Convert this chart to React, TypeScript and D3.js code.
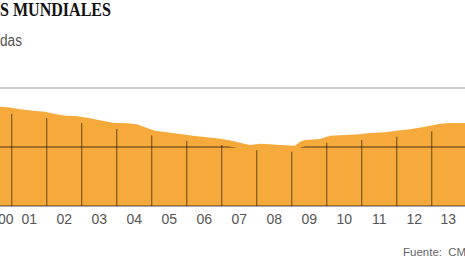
import React from "react";
import * as d3 from "d3";

const W = 465;
const H = 260;

// area series: decimal year and value (index, 0-100 scale)
const dates = [
  2000.666, 2000.951, 2001.237, 2001.609, 2001.951, 2002.237, 2002.551, 2002.837,
  2003.237, 2003.523, 2003.894, 2004.294, 2004.58, 2004.809, 2005.094, 2005.437,
  2005.809, 2006.18, 2006.58, 2006.951, 2007.323, 2007.523, 2007.809, 2008.094,
  2008.38, 2008.666, 2009.094, 2009.237, 2009.38, 2009.809, 2010.094, 2010.523,
  2010.951, 2011.151, 2011.666, 2011.98, 2012.38, 2012.809, 2013.237, 2013.523,
  2013.951,
];
const values = [
  84.2, 83.5, 81.9, 80.8, 79.9, 78.0, 76.5, 76.3,
  74.3, 72.6, 70.6, 70.1, 69.2, 66.7, 63.8, 62.5,
  61.0, 59.6, 58.2, 57.0, 55.1, 53.6, 51.7, 52.8,
  52.3, 51.7, 51.1, 54.5, 55.9, 56.8, 59.6, 60.2,
  60.8, 61.6, 62.5, 63.8, 65.0, 67.2, 69.7, 70.3,
  70.3,
];
const years = [2000, 2001, 2002, 2003, 2004, 2005, 2006, 2007, 2008, 2009, 2010, 2011, 2012, 2013];
const yearLabels = ["00", "01", "02", "03", "04", "05", "06", "07", "08", "09", "10", "11", "12", "13"];
const yTicks = [0, 50, 100];

const titleText = "S MUNDIALES";
const subtitleText = "das";
const sourceText = "Fuente: CM";

export default function App() {
  const x = d3.scaleLinear().domain([2001, 2013]).range([11.7, 431.7]);
  const y = d3.scaleLinear().domain([0, 100]).range([206, 88]);
  const data = dates.map((d, i) => ({ date: d, value: values[i] }));

  const area = d3
    .area<{ date: number; value: number }>()
    .x((d) => x(d.date))
    .y0(y(0))
    .y1((d) => y(d.value));
  const inset = d3
    .area<{ date: number; value: number }>()
    .x((d) => x(d.date))
    .y0(y(0) + 3)
    .y1((d) => y(d.value) + 6);

  const labelX = (yr: number) =>
    (Math.max(x(yr), 0) + Math.min(x(yr + 1), W)) / 2;

  return (
    <svg
      width={W}
      height={H}
      style={{ position: "absolute", left: 0, top: 0, background: "#fff" }}
    >
      <defs>
        <clipPath id="inset">
          <path d={inset(data) || ""} />
        </clipPath>
      </defs>
      <text
        x={0}
        y={15.8}
        fontFamily="Liberation Serif, serif"
        fontWeight="bold"
        fontSize={18.5}
        textLength={111}
        lengthAdjust="spacingAndGlyphs"
        fill="#111"
      >
        {titleText}
      </text>
      <text
        x={0}
        y={45.5}
        fontFamily="Liberation Sans, Arial, sans-serif"
        fontSize={16}
        textLength={22}
        lengthAdjust="spacingAndGlyphs"
        fill="#555"
      >
        {subtitleText}
      </text>
      <line x1={0} x2={W} y1={y(100)} y2={y(100)} stroke="#bdbdbd" strokeWidth={1.5} />
      <path d={area(data) || ""} fill="#f6aa3c" />
      <g clipPath="url(#inset)" stroke="#000" strokeOpacity={0.45} strokeWidth={1.3}>
        {years.map((yr) => (
          <line key={yr} x1={x(yr)} x2={x(yr)} y1={y(0)} y2={y(100)} />
        ))}
        {yTicks
          .filter((t) => t < 100)
          .map((t) => (
            <line key={t} x1={0} x2={W} y1={y(t)} y2={y(t)} />
          ))}
      </g>
      {years.map((yr, i) => (
        <text
          key={yr}
          x={labelX(yr)}
          y={224.3}
          textAnchor="middle"
          fontFamily="Liberation Sans, Arial, sans-serif"
          fontSize={14}
          fill="#555"
        >
          {yearLabels[i]}
        </text>
      ))}
      <text
        x={403}
        y={256}
        fontFamily="Liberation Sans, Arial, sans-serif"
        fontSize={11.5}
        wordSpacing={3}
        fill="#666"
      >
        {sourceText}
      </text>
    </svg>
  );
}
